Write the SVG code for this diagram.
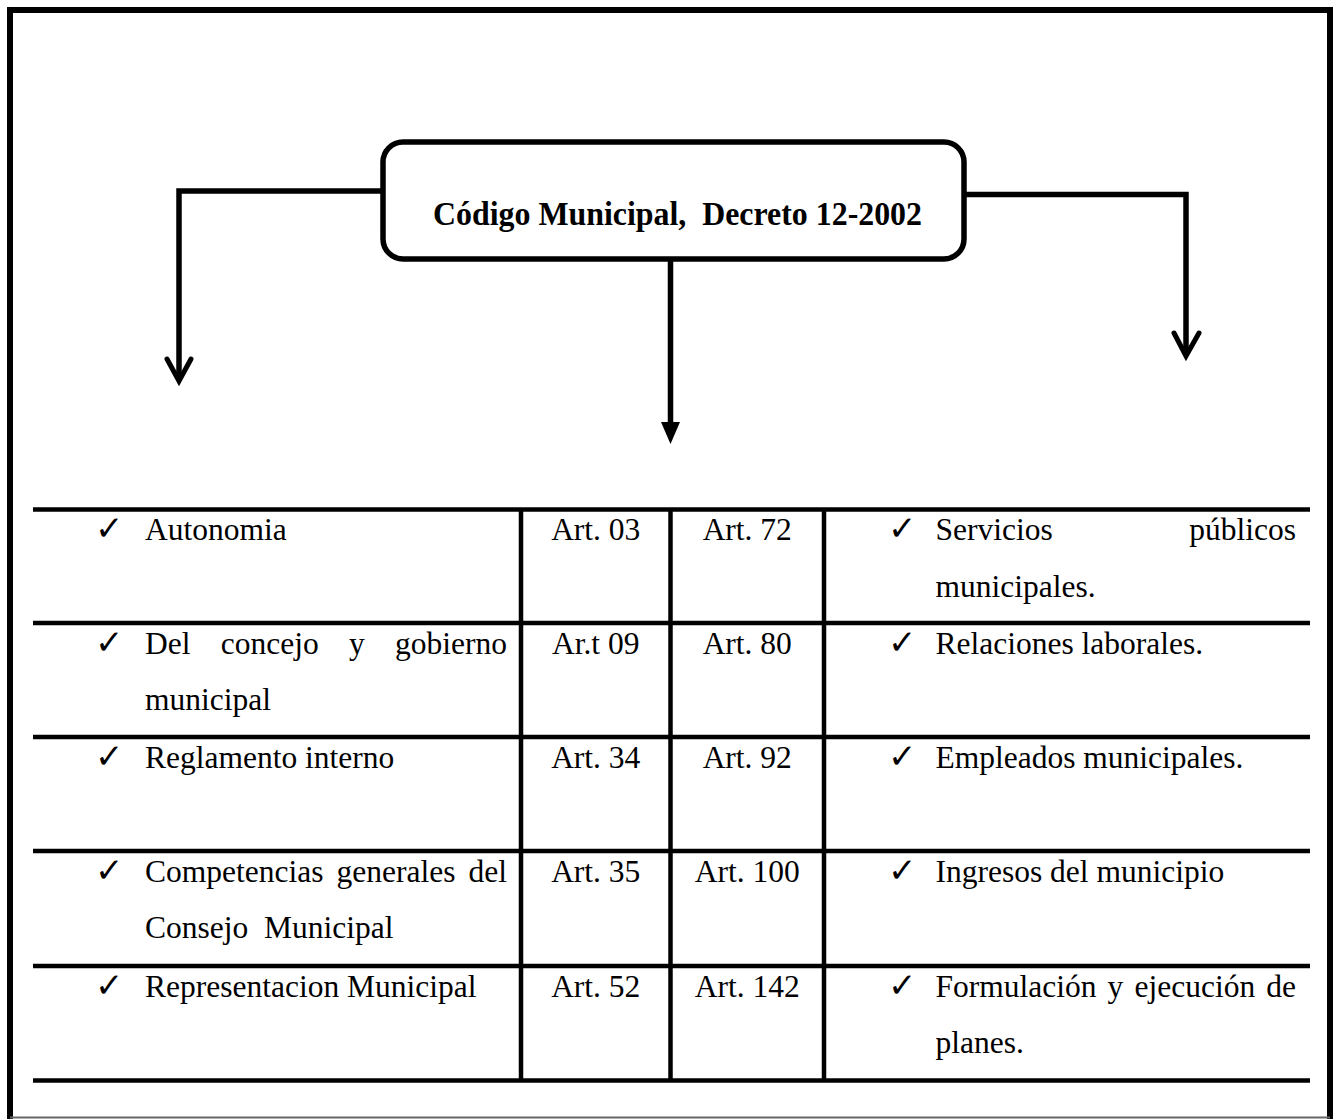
<svg xmlns="http://www.w3.org/2000/svg" width="1338" height="1119" viewBox="0 0 1338 1119">
<style>
.frame{fill:none;stroke:#000;stroke-width:6}
.box{fill:#fff;stroke:#000;stroke-width:5.5}
.conn{fill:none;stroke:#000;stroke-width:5.5;stroke-linejoin:miter;stroke-linecap:butt}
.chev{fill:none;stroke:#000;stroke-width:5;stroke-linecap:round;stroke-linejoin:miter}
.grid{stroke:#000;stroke-width:4.5}
.t{font-family:"Liberation Serif","Times New Roman",serif;font-size:31.5px;fill:#000}
.c{text-anchor:middle}
.e{text-anchor:end}
.ck{font-family:"DejaVu Sans",sans-serif;font-size:34px;fill:#000}
.title{font-family:"Liberation Serif","Times New Roman",serif;font-size:33px;font-weight:bold;fill:#000}
</style>
<rect x="0" y="0" width="1338" height="1119" fill="#fff"/>
<g id="frame">
<path class="frame" d="M10,1119 V10 H1330 V1119"/>
<line x1="10" y1="1117.5" x2="1330" y2="1117.5" stroke="#666" stroke-width="2"/>
</g>
<g id="connectors">
<path class="conn" d="M383,191 H179 V378"/>
<path class="chev" d="M167,359 L179,381 L191,359"/>
<path class="conn" d="M964,194.5 H1186 V354"/>
<path class="chev" d="M1174,333 L1186,356 L1199,333"/>
<path class="conn" d="M670.5,259 V425"/>
<polygon points="661,422 680,422 670.5,444" fill="#000"/>
</g>
<g id="node-codigo">
<rect class="box" x="383" y="142" width="581" height="117" rx="20" ry="20"/>
<text class="title" x="433" y="225" textLength="489" lengthAdjust="spacingAndGlyphs">Código Municipal,&#160; Decreto 12-2002</text>
</g>
<g id="table">
<g id="grid">
<line class="grid" x1="33" y1="509.5" x2="1310" y2="509.5"/>
<line class="grid" x1="33" y1="623" x2="1310" y2="623"/>
<line class="grid" x1="33" y1="737" x2="1310" y2="737"/>
<line class="grid" x1="33" y1="851" x2="1310" y2="851"/>
<line class="grid" x1="33" y1="966" x2="1310" y2="966"/>
<line class="grid" x1="33" y1="1080.5" x2="1310" y2="1080.5"/>
<line class="grid" x1="521" y1="509.5" x2="521" y2="1080.5"/>
<line class="grid" x1="670.5" y1="509.5" x2="670.5" y2="1080.5"/>
<line class="grid" x1="824" y1="509.5" x2="824" y2="1080.5"/>
</g>
<g id="row1">
<text class="ck" x="95" y="540">✓</text>
<text class="t" x="145" y="540">Autonomia</text>
<text class="t c" x="595.75" y="540">Art. 03</text>
<text class="t c" x="747.25" y="540">Art. 72</text>
<text class="ck" x="888" y="540">✓</text>
<text class="t" x="935.5" y="540">Servicios</text>
<text class="t e" x="1296" y="540">públicos</text>
<text class="t" x="935.5" y="596.5">municipales.</text>
</g>
<g id="row2">
<text class="ck" x="95" y="653.5">✓</text>
<text class="t" x="145" y="653.5">Del</text>
<text class="t" x="220.8" y="653.5">concejo</text>
<text class="t" x="349" y="653.5">y</text>
<text class="t e" x="507" y="653.5">gobierno</text>
<text class="t" x="145" y="710">municipal</text>
<text class="t c" x="595.75" y="653.5">Ar.t 09</text>
<text class="t c" x="747.25" y="653.5">Art. 80</text>
<text class="ck" x="888" y="653.5">✓</text>
<text class="t" x="935.5" y="653.5">Relaciones laborales.</text>
</g>
<g id="row3">
<text class="ck" x="95" y="767.5">✓</text>
<text class="t" x="145" y="767.5">Reglamento interno</text>
<text class="t c" x="595.75" y="767.5">Art. 34</text>
<text class="t c" x="747.25" y="767.5">Art. 92</text>
<text class="ck" x="888" y="767.5">✓</text>
<text class="t" x="935.5" y="767.5">Empleados municipales.</text>
</g>
<g id="row4">
<text class="ck" x="95" y="881.5">✓</text>
<text class="t" x="145" y="881.5">Competencias</text>
<text class="t" x="336.5" y="881.5">generales</text>
<text class="t e" x="507" y="881.5">del</text>
<text class="t" x="145" y="938">Consejo&#160; Municipal</text>
<text class="t c" x="595.75" y="881.5">Art. 35</text>
<text class="t c" x="747.25" y="881.5">Art. 100</text>
<text class="ck" x="888" y="881.5">✓</text>
<text class="t" x="935.5" y="881.5">Ingresos del municipio</text>
</g>
<g id="row5">
<text class="ck" x="95" y="996.5">✓</text>
<text class="t" x="145" y="996.5">Representacion Municipal</text>
<text class="t c" x="595.75" y="996.5">Art. 52</text>
<text class="t c" x="747.25" y="996.5">Art. 142</text>
<text class="ck" x="888" y="996.5">✓</text>
<text class="t" x="935.5" y="996.5">Formulación</text>
<text class="t" x="1107.6" y="996.5">y</text>
<text class="t" x="1134.5" y="996.5">ejecución</text>
<text class="t e" x="1296" y="996.5">de</text>
<text class="t" x="935.5" y="1053">planes.</text>
</g>
</g>
</svg>
